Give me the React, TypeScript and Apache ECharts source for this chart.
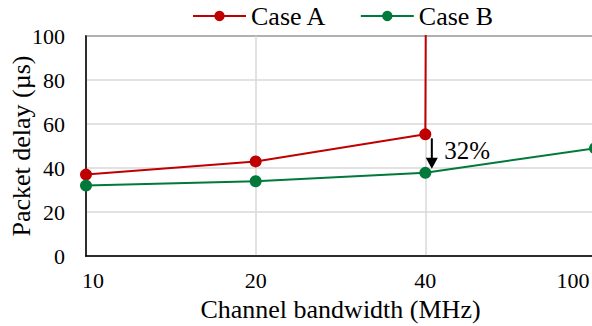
import React, { useEffect, useRef } from "react";
import * as echarts from "echarts";

const categories = ["10", "20", "40", "100"];
const caseA = [37, 43, 55.3, 20000];
const caseB = [32, 34, 37.8, 49];
const yTicks = { min: 0, max: 100, interval: 20 };
const annotationText = "32%";

const FONT = "Liberation Serif, Times New Roman, serif";
const RED = "#C00000";
const GREEN = "#00793A";

export default function App() {
  const ref = useRef<HTMLDivElement>(null);
  useEffect(() => {
    if (!ref.current) return;
    const chart = echarts.init(ref.current, undefined, { renderer: "svg" });
    const option: any = {
      animation: false,
      textStyle: { fontFamily: FONT, color: "#000" },
      grid: {
        left: 86,
        right: -3,
        top: 36,
        bottom: 70,
        containLabel: false,
        outerBoundsMode: "none",
        show: true,
        borderColor: "#000",
        borderWidth: 1.3,
      },
      legend: {
        left: 187,
        top: -2,
        itemWidth: 53,
        itemHeight: 13,
        itemGap: 33,
        textStyle: { fontFamily: FONT, fontSize: 26, color: "#000" },
        data: ["Case A", "Case B"],
      },
      xAxis: {
        type: "category",
        data: categories,
        boundaryGap: false,
        axisTick: { show: false },
        axisLine: { lineStyle: { color: "#000", width: 1.5 } },
        splitLine: { show: true, lineStyle: { color: "#D9D9D9", width: 1.5 } },
        axisLabel: {
          margin: 13,
          fontSize: 22,
          fontFamily: FONT,
          color: "#000",
          formatter: (v: string, i: number) =>
            i === 0 ? `{first|${v}}` : i === categories.length - 1 ? `{last|${v}}` : v,
          rich: {
            first: { padding: [0, 0, 0, 14], fontSize: 22, fontFamily: FONT, color: "#000" },
            last: { padding: [0, 44, 0, 0], fontSize: 22, fontFamily: FONT, color: "#000" },
          },
        },
        name: "Channel bandwidth (MHz)",
        nameLocation: "middle",
        nameGap: 40,
        nameMoveOverlap: false,
        nameTextStyle: { fontSize: 26, fontFamily: FONT, color: "#000" },
      },
      yAxis: {
        type: "value",
        min: yTicks.min,
        max: yTicks.max,
        interval: yTicks.interval,
        axisTick: { show: false },
        axisLine: { show: true, lineStyle: { color: "#000", width: 1.5 } },
        splitLine: { show: true, lineStyle: { color: "#D9D9D9", width: 1.5 } },
        axisLabel: { margin: 21, fontSize: 22, fontFamily: FONT, color: "#000" },
        name: "Packet delay (µs)",
        nameLocation: "middle",
        nameGap: 52,
        nameMoveOverlap: false,
        nameTextStyle: { fontSize: 26, fontFamily: FONT, color: "#000" },
      },
      series: [
        {
          name: "Case A",
          type: "line",
          data: caseA,
          clip: true,
          symbol: "circle",
          symbolSize: 12,
          itemStyle: { color: RED },
          lineStyle: { color: RED, width: 2 },
        },
        {
          name: "Case B",
          type: "line",
          data: caseB,
          clip: true,
          symbol: "circle",
          symbolSize: 12,
          itemStyle: { color: GREEN },
          lineStyle: { color: GREEN, width: 2 },
        },
      ],
    };
    chart.setOption(option);

    const pA = chart.convertToPixel({ gridIndex: 0 }, [2, caseA[2]]) as number[];
    const pB = chart.convertToPixel({ gridIndex: 0 }, [2, caseB[2]]) as number[];
    const ax = pA[0] + 6.5;
    const top = pA[1] + 4;
    const tip = pB[1] - 4;
    const headH = 11;
    chart.setOption({
      graphic: [
        {
          type: "line",
          shape: { x1: ax, y1: top, x2: ax, y2: tip - headH + 1 },
          style: { stroke: "#000", lineWidth: 2 },
          z: 100,
        },
        {
          type: "polygon",
          shape: {
            points: [
              [ax - 6, tip - headH],
              [ax + 6, tip - headH],
              [ax, tip],
            ],
          },
          style: { fill: "#000" },
          z: 100,
        },
        {
          type: "text",
          x: pA[0] + 19,
          y: (pA[1] + pB[1]) / 2 - 3.5,
          style: {
            text: annotationText,
            fontSize: 25,
            fontFamily: FONT,
            fill: "#000",
            verticalAlign: "middle",
            align: "left",
          },
          z: 100,
        },
      ],
    });
    return () => chart.dispose();
  }, []);
  return (
    <div
      ref={ref}
      style={{ position: "absolute", left: 0, top: 0, width: 592, height: 326, background: "#fff" }}
    />
  );
}
